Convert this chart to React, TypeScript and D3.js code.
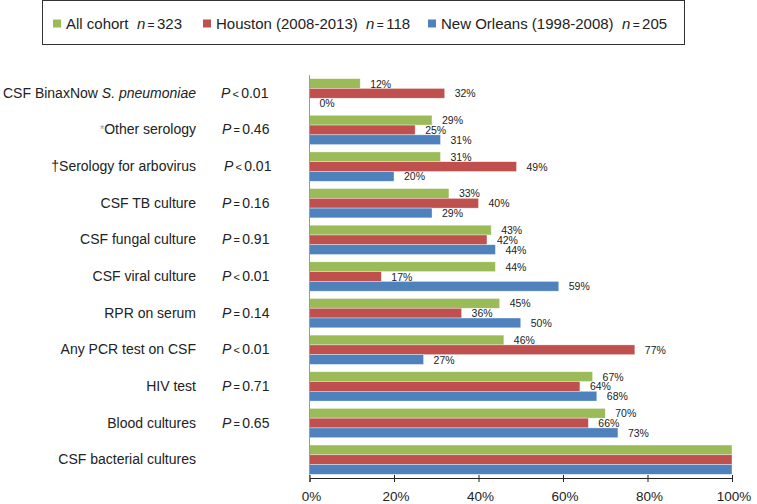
import React, { useEffect, useRef } from 'react';
import * as d3 from 'd3';

const categories = [
  'CSF BinaxNow S. pneumoniae',
  '*Other serology',
  '†Serology for arbovirus',
  'CSF TB culture',
  'CSF fungal culture',
  'CSF viral culture',
  'RPR on serum',
  'Any PCR test on CSF',
  'HIV test',
  'Blood cultures',
  'CSF bacterial cultures',
];

const pValues = ['<0.01', '=0.46', '<0.01', '=0.16', '=0.91', '<0.01', '=0.14', '<0.01', '=0.71', '=0.65', ''];

const allCohort = [12, 29, 31, 33, 43, 44, 45, 46, 67, 70, 100];
const houston = [32, 25, 49, 40, 42, 17, 36, 77, 64, 66, 100];
const newOrleans = [0, 31, 20, 29, 44, 59, 50, 27, 68, 73, 100];

const seriesNames = ['All cohort', 'Houston (2008-2013)', 'New Orleans (1998-2008)'];
const seriesN = ['323', '118', '205'];
const colors = ['#9BBB59', '#C0504D', '#4F81BD'];

const xTicks = [0, 20, 40, 60, 80, 100];

const App: React.FC = () => {
  const ref = useRef<SVGSVGElement>(null);

  useEffect(() => {
    if (!ref.current) return;
    const svg = d3.select(ref.current);
    svg.selectAll('*').remove();

    const height = 504;
    const margin = { top: 75, bottom: 26, left: 309.5 };
    const font = 'Liberation Sans, Arial, sans-serif';

    const x = d3.scaleLinear().domain([0, 100]).range([margin.left, 732]);
    const y = d3
      .scaleBand<string>()
      .domain(categories)
      .range([margin.top, height - margin.bottom])
      .paddingInner(0.2)
      .paddingOuter(0.1);
    const sub = d3.scaleBand<number>().domain([0, 1, 2]).range([0, y.bandwidth()]);

    const series = [allCohort, houston, newOrleans];

    // bars + value labels
    series.forEach((vals, si) => {
      const g = svg.append('g');
      g.selectAll('rect')
        .data(vals)
        .enter()
        .append('rect')
        .attr('x', x(0))
        .attr('y', (d, i) => y(categories[i])! + sub(si)!)
        .attr('width', (d) => x(d) - x(0))
        .attr('height', sub.bandwidth())
        .attr('fill', colors[si])
        .attr('stroke', '#ffffff')
        .attr('stroke-opacity', 0.6)
        .attr('stroke-width', 0.6);

      vals.forEach((d, i) => {
        if (d >= 100) return;
        g.append('text')
          .attr('x', x(d) + 10)
          .attr('y', y(categories[i])! + sub(si)! + sub.bandwidth() / 2 + 4)
          .attr('font-family', font)
          .attr('font-size', 10.5)
          .attr('fill', '#222')
          .text(`${d}%`);
      });
    });

    // vertical axis line
    svg
      .append('line')
      .attr('x1', x(0))
      .attr('x2', x(0))
      .attr('y1', margin.top)
      .attr('y2', height - margin.bottom)
      .attr('stroke', '#999')
      .attr('stroke-width', 1);

    // x axis
    const xa = svg
      .append('g')
      .attr('transform', `translate(0,${height - margin.bottom})`)
      .call(
        d3
          .axisBottom(x)
          .tickValues(xTicks)
          .tickSize(4)
          .tickFormat((d) => `${d}%`),
      );
    xa.select('.domain').attr('stroke', '#222').attr('stroke-width', 1);
    xa.selectAll('.tick line').attr('y1', -3).attr('y2', 4).attr('stroke', '#222');
    xa.selectAll('.tick text')
      .attr('y', 13)
      .attr('dx', 1.5)
      .attr('font-family', font)
      .attr('font-size', 13.5)
      .attr('fill', '#222');

    // category labels and P values
    categories.forEach((c, i) => {
      const cy = y(c)! + y.bandwidth() / 2 + 4.5;
      const t = svg
        .append('text')
        .attr('x', 196)
        .attr('y', cy)
        .attr('text-anchor', 'end')
        .attr('font-family', font)
        .attr('font-size', 14)
        .attr('fill', '#222');
      if (c.startsWith('CSF BinaxNow')) {
        t.append('tspan').text('CSF BinaxNow ');
        t.append('tspan').attr('font-style', 'italic').text('S. pneumoniae');
      } else if (c.startsWith('*')) {
        t.append('tspan').attr('fill', '#999').attr('font-size', 11).attr('dy', -1).text('*');
        t.append('tspan').attr('dy', 1).text(c.slice(1));
      } else if (c.startsWith('†')) {
        t.append('tspan').text('†');
        t.append('tspan').text(c.slice(1));
      } else {
        t.text(c);
      }

      const p = pValues[i];
      if (p) {
        const pt = svg
          .append('text')
          .attr('x', i === 0 ? 221 : i === 2 ? 224 : 222)
          .attr('y', cy)
          .attr('font-family', font)
          .attr('font-size', 14)
          .attr('fill', '#222');
        pt.append('tspan').attr('font-style', 'italic').text('P');
        pt.append('tspan').attr('font-size', 11).text(`\u2009${p[0]}\u2009`);
        pt.append('tspan').text(p.slice(1));
      }
    });

    // legend
    const lg = svg.append('g');
    lg.append('rect')
      .attr('x', 42.5)
      .attr('y', 0.5)
      .attr('width', 642)
      .attr('height', 44)
      .attr('fill', '#fff')
      .attr('stroke', '#333')
      .attr('stroke-width', 1);
    const legendX = [53, 203, 428];
    seriesNames.forEach((name, i) => {
      lg.append('rect')
        .attr('x', legendX[i])
        .attr('y', 19.5)
        .attr('width', 8)
        .attr('height', 8)
        .attr('fill', colors[i]);
      const t = lg
        .append('text')
        .attr('x', legendX[i] + 13)
        .attr('y', 29)
        .attr('font-family', font)
        .attr('font-size', 15)
        .attr('fill', '#222');
      t.append('tspan').text(`${name}\u00a0\u00a0`);
      t.append('tspan').attr('font-style', 'italic').text('n');
      t.append('tspan').attr('font-size', 12).text('\u2009=\u2009');
      t.append('tspan').text(seriesN[i]);
    });
  }, []);

  return (
    <div style={{ position: 'absolute', left: 0, top: 0 }}>
      <svg ref={ref} width={757} height={504} style={{ display: 'block', background: '#fff' }} />
    </div>
  );
};

export default App;
